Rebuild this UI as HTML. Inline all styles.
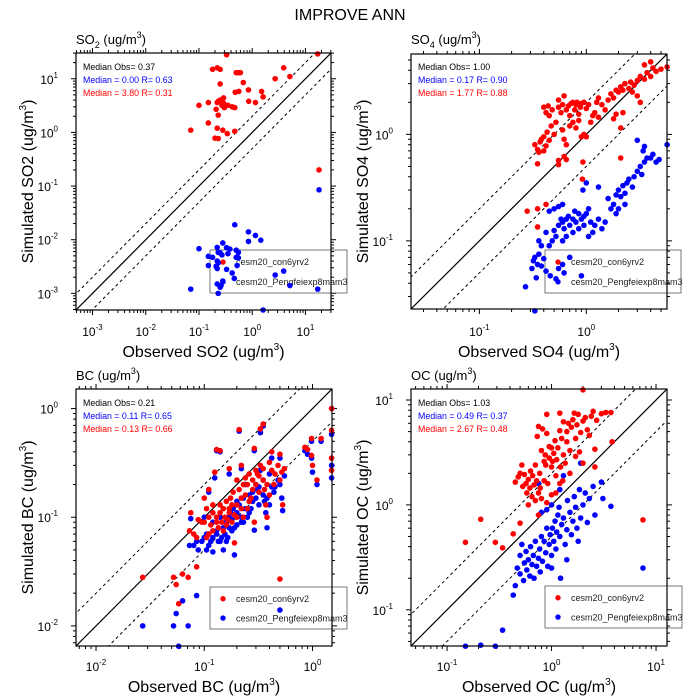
<!DOCTYPE html>
<html><head><meta charset="utf-8"><style>
html,body{margin:0;background:#fff;width:700px;height:700px;overflow:hidden}
svg{display:block;font-family:"Liberation Sans",sans-serif}
</style></head><body>
<svg id="chart" width="700" height="700" viewBox="0 0 700 700">
<text x="350" y="20" text-anchor="middle" font-size="16">IMPROVE ANN</text>
</svg>
<script>
// ---- SO2 data ----
const so2RedObs=[17,0.33,0.18,0.22,0.25,3.9,5.1,2.7,0.6,0.55,0.5,0.25,0.68,0.85,1.5,0.48,0.56,1.6,0.29,0.25,0.15,0.23,0.22,0.86,1.15,0.1,0.35,0.29,0.27,0.42,0.47,0.3,0.21,0.23,0.15,0.22,0.28,0.47,0.34,0.07,0.2,0.23,18];
const so2RedSim=[29,28,15,16,15,16,11,10,13,13,13,8,8.5,6.2,5.8,5.6,5.8,4.6,4.4,4,3.6,3.8,3.6,3.8,3.6,3.2,3.2,3.5,3.2,3.0,2.9,2.9,2.7,2.1,1.5,1.2,1.1,1.05,0.95,1.1,0.78,0.77,0.2];
const so2BlueObs=[0.47,0.85,1.15,1.45,0.85,0.28,0.1,0.22,0.33,0.38,0.5,0.55,0.25,0.15,0.18,0.23,0.27,0.35,0.5,0.55,0.22,0.23,0.15,0.21,0.52,0.33,0.42,0.22,0.28,0.46,2.7,3.9,0.26,0.25,0.22,0.07,0.23,5.1,17,1.6,18];
const so2BlueSim=[0.019,0.014,0.012,0.0098,0.0093,0.0087,0.0068,0.0072,0.0071,0.0067,0.0064,0.0058,0.0057,0.0049,0.0047,0.0058,0.0052,0.0055,0.0047,0.0046,0.004,0.0037,0.0033,0.0032,0.0033,0.0028,0.0024,0.0029,0.0017,0.0019,0.0022,0.0026,0.0014,0.0013,0.0015,0.0012,0.001,0.0014,0.0012,0.00049,0.085];
// ---- SO4 data ----
const so4RedObs=[0.33,0.35,0.37,0.38,0.4,0.42,0.36,0.4,0.45,0.43,0.47,0.5,0.52,0.45,0.48,0.42,0.4,0.44,0.55,0.58,0.6,0.55,0.62,0.65,0.68,0.7,0.72,0.75,0.78,0.8,0.82,0.85,0.88,0.9,0.95,1.0,1.05,0.6,0.62,0.65,0.62,0.65,0.7,0.75,0.8,0.9,0.95,0.85,1.1,1.15,1.2,1.3,1.25,1.3,1.4,1.5,1.6,1.7,1.8,1.9,2.0,2.1,2.2,2.3,2.5,2.6,2.8,3.0,3.2,3.5,3.7,4.0,4.2,4.5,5.0,5.7,3.5,4.0,3.0,3.2,2.7,1.8,2.2,1.9,2.1,1.0,0.35,0.55,0.55,0.93,0.92,2.1,0.28,0.35,0.42,0.35];
const so4RedSim=[0.8,0.72,0.85,0.9,0.95,0.78,0.68,0.7,0.88,1.05,1.2,1.0,1.3,1.5,1.7,1.6,1.8,1.85,1.8,1.6,1.9,2.1,2.3,1.7,1.85,1.5,1.95,2.0,1.7,1.9,2.0,1.55,1.8,1.95,2.0,1.75,1.9,1.1,0.9,0.8,0.62,0.58,1.2,1.3,1.15,0.95,1.0,1.35,1.3,1.5,1.6,1.45,2.0,2.2,1.9,1.7,2.1,2.4,2.2,2.6,2.5,2.8,2.6,3.0,2.7,3.1,2.9,3.2,3.5,3.3,3.8,3.5,4.2,3.9,4.1,4.3,4.5,4.8,2.3,2.0,2.5,1.4,1.6,1.55,1.15,0.95,0.53,0.57,0.52,0.55,0.38,0.6,0.19,0.2,0.22,0.135];
const so4BlueObs=[0.27,0.33,0.32,0.31,0.33,0.35,0.36,0.38,0.4,0.42,0.34,0.46,0.52,0.55,0.6,0.62,0.7,0.9,0.36,0.38,0.42,0.45,0.48,0.5,0.52,0.55,0.58,0.6,0.62,0.65,0.68,0.7,0.75,0.78,0.8,0.85,0.9,0.95,1.0,1.05,1.1,1.2,1.15,1.3,1.4,1.5,0.75,0.65,0.6,0.85,0.95,1.05,0.5,0.55,0.6,0.45,1.0,0.93,1.3,1.6,1.8,1.9,2.0,2.1,2.2,2.3,2.4,2.5,2.7,2.8,3.0,3.2,3.3,3.5,3.7,3.4,4.0,4.2,4.5,3.0,3.5,5.7,4.8,2.0,1.9,2.3,1.7];
const so4BlueSim=[0.037,0.022,0.065,0.055,0.07,0.06,0.075,0.058,0.068,0.052,0.045,0.047,0.044,0.055,0.06,0.05,0.07,0.047,0.1,0.09,0.12,0.09,0.1,0.125,0.11,0.14,0.16,0.15,0.13,0.16,0.17,0.14,0.16,0.19,0.15,0.18,0.16,0.17,0.18,0.2,0.15,0.14,0.12,0.16,0.13,0.15,0.12,0.11,0.1,0.13,0.14,0.11,0.2,0.21,0.22,0.19,0.35,0.3,0.32,0.25,0.22,0.27,0.3,0.26,0.33,0.28,0.35,0.38,0.32,0.4,0.45,0.5,0.42,0.55,0.6,0.7,0.6,0.65,0.55,0.88,0.77,0.8,0.58,0.2,0.18,0.22,0.2];
// ---- BC data ----
const bcObs=[0.027,0.052,0.055,0.058,0.063,0.071,0.085,0.075,0.073,0.08,0.085,0.088,0.095,0.1,0.105,0.11,0.11,0.115,0.12,0.12,0.125,0.13,0.14,0.13,0.135,0.14,0.145,0.15,0.155,0.16,0.165,0.17,0.17,0.175,0.18,0.185,0.19,0.19,0.2,0.2,0.21,0.21,0.22,0.22,0.23,0.23,0.24,0.25,0.25,0.26,0.27,0.28,0.29,0.29,0.3,0.31,0.32,0.33,0.33,0.35,0.35,0.37,0.38,0.38,0.4,0.42,0.42,0.45,0.48,0.5,0.5,0.52,0.53,0.55,0.5,0.85,0.9,0.98,0.98,1.0,1.1,1.2,1.5,1.5,1.5,1.5,0.12,0.13,0.14,0.16,0.15,0.17,0.18,0.2,0.22,0.24,0.26,0.28,0.3,0.32,0.35,0.36,0.4,0.44,0.11,0.1,0.105];
const bcRedSim=[0.028,0.028,0.024,0.016,0.03,0.028,0.035,0.11,0.075,0.07,0.065,0.095,0.09,0.15,0.12,0.18,0.07,0.085,0.13,0.075,0.26,0.42,0.41,0.1,0.08,0.11,0.09,0.12,0.1,0.14,0.095,0.28,0.12,0.15,0.09,0.17,0.058,0.105,0.22,0.13,0.64,0.18,0.3,0.15,0.1,0.2,0.23,0.12,0.2,0.25,0.15,0.18,0.43,0.09,0.2,0.25,0.17,0.3,0.65,0.72,0.22,0.13,0.2,0.1,0.32,0.4,0.27,0.25,0.3,0.38,0.22,0.26,0.13,0.28,0.027,0.44,0.42,0.53,0.37,0.3,0.22,0.53,1.0,0.63,0.35,0.27,0.11,0.09,0.13,0.085,0.075,0.11,0.13,0.1,0.12,0.16,0.14,0.22,0.27,0.24,0.28,0.18,0.16,0.2,0.1,0.09,0.065];
const bcBlueSim=[0.01,0.01,0.013,0.0065,0.017,0.01,0.019,0.097,0.055,0.055,0.06,0.05,0.06,0.1,0.07,0.17,0.055,0.06,0.065,0.048,0.23,0.41,0.4,0.07,0.06,0.06,0.065,0.08,0.07,0.09,0.065,0.25,0.1,0.11,0.075,0.12,0.045,0.08,0.14,0.11,0.62,0.13,0.28,0.1,0.09,0.15,0.2,0.1,0.12,0.16,0.12,0.14,0.41,0.076,0.15,0.18,0.13,0.27,0.6,0.69,0.16,0.11,0.15,0.08,0.25,0.35,0.19,0.19,0.22,0.35,0.2,0.15,0.115,0.24,0.014,0.41,0.38,0.5,0.35,0.26,0.2,0.5,1.0,0.58,0.3,0.23,0.09,0.075,0.1,0.06,0.05,0.08,0.095,0.085,0.09,0.12,0.11,0.17,0.2,0.19,0.22,0.14,0.13,0.17,0.07,0.065,0.05];
// ---- OC data ----
const ocRedObs=[0.15,0.21,0.29,0.34,0.43,0.5,0.75,2.0,7.5,3.8,2.6,2.6,0.45,0.48,0.5,0.52,0.53,0.55,0.57,0.58,0.6,0.62,0.63,0.65,0.66,0.68,0.7,0.7,0.72,0.73,0.75,0.75,0.77,0.78,0.8,0.8,0.82,0.85,0.87,0.88,0.9,0.9,0.92,0.95,0.95,1.0,1.0,1.02,1.05,1.08,1.1,1.1,1.12,1.15,1.2,1.2,1.22,1.25,1.28,1.3,1.3,1.35,1.4,1.4,1.45,1.5,1.5,1.55,1.6,1.65,1.7,1.75,1.8,1.85,1.9,2.0,2.0,2.1,2.2,2.3,2.4,2.5,2.7,3.0,3.3,3.7,1.2,0.85,1.7,1.0,0.6,0.9];
const ocRedSim=[0.44,0.73,0.44,0.39,0.53,0.67,0.8,12.5,0.72,4.0,2.3,3.4,1.65,1.85,2.0,2.4,1.5,1.95,1.6,1.3,1.75,1.45,2.1,1.2,1.9,1.55,1.1,2.4,1.7,4.5,5.6,1.3,2.0,1.45,3.3,1.15,5.3,1.7,3.0,2.4,7.3,4.8,1.6,2.8,3.6,2.3,3.5,2.6,3.1,4.1,1.9,1.3,2.7,3.5,5.1,7.5,2.3,4.3,1.7,6.2,3.0,2.5,4.0,5.0,6.0,3.3,2.0,5.5,6.5,7.5,4.3,5.8,7.3,3.2,4.9,6.3,2.5,6.8,5.2,4.6,7.0,7.8,6.4,7.4,7.6,7.6,1.6,2.6,2.9,1.25,1.0,1.05];
const ocBlueObs=[0.15,0.21,0.29,0.34,0.43,7.5,0.45,0.47,0.5,0.5,0.52,0.54,0.55,0.57,0.58,0.6,0.62,0.63,0.65,0.67,0.68,0.7,0.72,0.75,0.77,0.78,0.8,0.8,0.82,0.85,0.88,0.9,0.92,0.95,0.97,1.0,1.0,1.02,1.05,1.08,1.1,1.12,1.15,1.18,1.2,1.22,1.25,1.3,1.3,1.35,1.4,1.42,1.5,1.55,1.6,1.65,1.7,1.75,1.8,1.85,1.9,2.0,2.1,2.2,2.3,2.5,2.6,3.0,3.1,3.7,1.9,0.75,1.0,1.4,0.9,1.2];
const ocBlueSim=[0.045,0.046,0.045,0.064,0.138,0.25,0.17,0.25,0.22,0.33,0.42,0.19,0.28,0.36,0.24,0.3,0.21,0.4,0.27,0.33,0.2,0.45,0.26,0.31,0.38,0.23,0.5,0.85,0.29,0.45,0.35,0.6,0.26,0.42,0.52,0.33,1.0,0.6,0.45,0.7,0.38,0.55,0.8,0.95,0.5,0.2,0.65,0.75,1.9,0.42,0.58,1.1,0.85,0.52,0.7,1.2,0.95,0.6,0.45,1.4,0.75,1.0,1.3,0.68,1.15,1.5,0.8,1.65,1.15,0.97,2.5,1.6,0.25,0.3,0.9,1.4];

const svg=document.getElementById('chart');
const NS='http://www.w3.org/2000/svg';
function mk(tag,attrs,parent){const e=document.createElementNS(NS,tag);for(const k in attrs)e.setAttribute(k,attrs[k]);(parent||svg).appendChild(e);return e;}

function panel(cfg){
  const {id,x0,y0,x1,y1,lmin,lmax,sp,label,tx,ty,xl,yl,series,stats,lg,tickY,tickXLab}=cfg;
  const g=mk('g',{});
  
  
  const sx=v=>x0+(Math.log10(v)-lmin)/(lmax-lmin)*(x1-x0);
  const sy=v=>y1-(Math.log10(v)-lmin)/(lmax-lmin)*(y1-y0);
  const cp=mk('clipPath',{id:'cp-'+id},g);
  mk('rect',{x:x0,y:y0,width:x1-x0,height:y1-y0},cp);
  const lo=Math.pow(10,lmin-1),hi=Math.pow(10,lmax+1);
  const l1=mk('line',{x1:sx(lo),y1:sy(lo),x2:sx(hi),y2:sy(hi),stroke:'#000','stroke-width':1.2,'clip-path':'url(#cp-'+id+')'},g);
  
  
  [2,0.5].forEach(f=>{
    const l=mk('line',{x1:sx(lo),y1:sy(lo*f),x2:sx(hi),y2:sy(hi*f),stroke:'#000','stroke-width':1,'stroke-dasharray':'3,3','clip-path':'url(#cp-'+id+')'},g);
    
    
  });
  for(let d=Math.floor(lmin);d<=Math.ceil(lmax);d++){
    for(let m=1;m<=9;m++){
      const lv=d+Math.log10(m);
      if(lv<lmin-1e-6||lv>lmax+1e-6)continue;
      const v=Math.pow(10,lv),len=m===1?5:3;
      const px=sx(v),py=sy(v);
      mk('line',{x1:px,y1:y1,x2:px,y2:y1+len,stroke:'#000','stroke-width':1},g);
      mk('line',{x1:px,y1:y0,x2:px,y2:y0-len,stroke:'#000','stroke-width':1},g);
      mk('line',{x1:x0,y1:py,x2:x0-len,y2:py,stroke:'#000','stroke-width':1},g);
      mk('line',{x1:x1,y1:py,x2:x1+len,y2:py,stroke:'#000','stroke-width':1},g);
      if(m===1 && d%sp===0){
        const xt=mk('text',{x:px,y:tickXLab,'text-anchor':'middle','font-size':12},g);
        
        
        xt.innerHTML='10<tspan dy="-6" font-size="8">'+d+'</tspan>';
        const yt=mk('text',{x:x0-18,y:py+5,'text-anchor':'end','font-size':12},g);
        
        
        yt.innerHTML='10<tspan dy="-6" font-size="8">'+d+'</tspan>';
      }
    }
  }
  const lgb=mk('rect',{x:lg[0],y:lg[1],width:lg[2],height:lg[3],fill:'none',stroke:'#555','stroke-width':0.8},g);
  
  
  [['#ff0000','cesm20_con6yrv2'],['#0000ff','cesm20_Pengfeiexp8mam3']].forEach((e,i)=>{
    const yy=lg[1]+lg[3]*(i===0?0.28:0.74);
    const c=mk('circle',{cx:lg[0]+13,cy:yy,r:2.7,fill:e[0]},g);
    
    
    const t=mk('text',{x:lg[0]+26,y:yy+3.2,'font-size':9,fill:'#222'},g);
    
    
    t.textContent=e[1];
  });
  series.forEach(s=>{
    s.obs.forEach((o,i)=>{
      const c=mk('circle',{cx:sx(o),cy:sy(s.sim[i]),r:2.8,fill:s.color},g);
      
      
    });
  });
  const fr=mk('rect',{x:x0,y:y0,width:x1-x0,height:y1-y0,fill:'none',stroke:'#000','stroke-width':1.2},g);
  
  
  const cols=['#000','#0000ff','#ff0000'];
  stats.forEach((s,i)=>{
    const t=mk('text',{x:x0+7,y:cfg.statY+i*13,'font-size':8.8,fill:cols[i]},g);
    
    
    t.textContent=s;
  });
  const tt=mk('text',{x:x0,y:ty,'font-size':13},g);
  
  
  tt.innerHTML=label;
  const xa=mk('text',{x:(x0+x1)/2,y:xl,'text-anchor':'middle','font-size':16},g);
  
  
  xa.innerHTML=cfg.xt+' (ug/m<tspan dy="-7" font-size="10">3</tspan><tspan dy="7">)</tspan>';
  const cy=(y0+y1)/2;
  const ya=mk('text',{x:yl,y:cy,'text-anchor':'middle','font-size':16,transform:'rotate(-90 '+yl+' '+cy+')'},g);
  
  
  ya.innerHTML=cfg.yt+' (ug/m<tspan dy="-7" font-size="10">3</tspan><tspan dy="7">)</tspan>';
}

panel({id:'so2',x0:76,y0:53,x1:331,y1:310,lmin:-3.31,lmax:1.48,sp:1,tickXLab:336,ty:44,xl:357,yl:33,statY:70,
  label:'SO<tspan dy="4" font-size="9">2</tspan><tspan dy="-4"> (ug/m</tspan><tspan dy="-6" font-size="9">3</tspan><tspan dy="6">)</tspan>',
  xt:'Observed SO2',yt:'Simulated SO2',lg:[210,250,137,43],
  stats:['Median Obs= 0.37','Median = 0.00 R= 0.63','Median = 3.80 R= 0.31'],
  series:[{obs:so2BlueObs,sim:so2BlueSim,color:'#0000ff',name:'pengfei'},{obs:so2RedObs,sim:so2RedSim,color:'#ff0000',name:'con6yrv2'}]});
panel({id:'so4',x0:411,y0:54,x1:667,y1:309,lmin:-1.64,lmax:0.755,sp:1,tickXLab:336,ty:44,xl:357,yl:368,statY:70,
  label:'SO<tspan dy="4" font-size="9">4</tspan><tspan dy="-4"> (ug/m</tspan><tspan dy="-6" font-size="9">3</tspan><tspan dy="6">)</tspan>',
  xt:'Observed SO4',yt:'Simulated SO4',lg:[545,250,136,43],
  stats:['Median Obs= 1.00','Median = 0.17 R= 0.90','Median = 1.77 R= 0.88'],
  series:[{obs:so4BlueObs,sim:so4BlueSim,color:'#0000ff',name:'pengfei'},{obs:so4RedObs,sim:so4RedSim,color:'#ff0000',name:'con6yrv2'}]});
panel({id:'bc',x0:76,y0:389,x1:332,y1:646,lmin:-2.185,lmax:0.18,sp:1,tickXLab:671,ty:380,xl:692,yl:33,statY:406,
  label:'BC (ug/m<tspan dy="-6" font-size="9">3</tspan><tspan dy="6">)</tspan>',
  xt:'Observed BC',yt:'Simulated BC',lg:[210,587,137,42],
  stats:['Median Obs= 0.21','Median = 0.11 R= 0.65','Median = 0.13 R= 0.66'],
  series:[{obs:bcObs,sim:bcBlueSim,color:'#0000ff',name:'pengfei'},{obs:bcObs,sim:bcRedSim,color:'#ff0000',name:'con6yrv2'}]});
panel({id:'oc',x0:411,y0:389,x1:667,y1:646,lmin:-1.345,lmax:1.105,sp:1,tickXLab:671,ty:380,xl:692,yl:368,statY:406,
  label:'OC (ug/m<tspan dy="-6" font-size="9">3</tspan><tspan dy="6">)</tspan>',
  xt:'Observed OC',yt:'Simulated OC',lg:[545,586,137,42],
  stats:['Median Obs= 1.03','Median = 0.49 R= 0.37','Median = 2.67 R= 0.48'],
  series:[{obs:ocBlueObs,sim:ocBlueSim,color:'#0000ff',name:'pengfei'},{obs:ocRedObs,sim:ocRedSim,color:'#ff0000',name:'con6yrv2'}]});
</script>
</body></html>
